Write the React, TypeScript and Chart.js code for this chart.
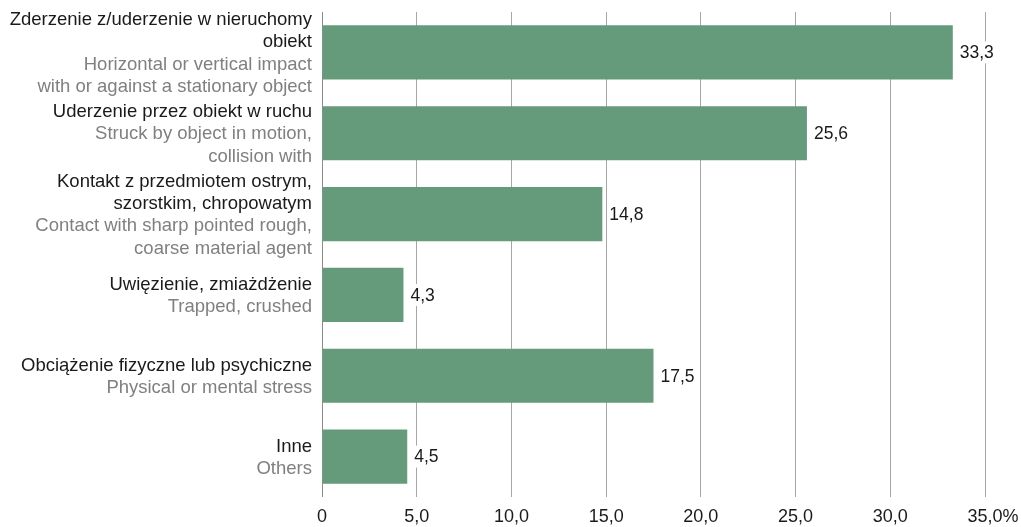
import React, { useEffect, useRef } from "react";
import { Chart, registerables } from "chart.js";

Chart.register(...registerables);

const polishLabels: string[][] = [
  ["Zderzenie z/uderzenie w nieruchomy", "obiekt"],
  ["Uderzenie przez obiekt w ruchu"],
  ["Kontakt z przedmiotem ostrym,", "szorstkim, chropowatym"],
  ["Uwięzienie, zmiażdżenie"],
  ["Obciążenie fizyczne lub psychiczne"],
  ["Inne"],
];

const englishLabels: string[][] = [
  ["Horizontal or vertical impact", "with or against a stationary object"],
  ["Struck by object in motion,", "collision with"],
  ["Contact with sharp pointed rough,", "coarse material agent"],
  ["Trapped, crushed"],
  ["Physical or mental stress"],
  ["Others"],
];

const values: number[] = [33.3, 25.6, 14.8, 4.3, 17.5, 4.5];

const xTicks: number[] = [0, 5, 10, 15, 20, 25, 30, 35];

const FONT = '"Liberation Sans", Arial, sans-serif';

const fmt = (v: number) => v.toFixed(1).replace(".", ",");

const labelPlugin = {
  id: "customLabels",
  afterDatasetsDraw(chart: any) {
    const ctx = chart.ctx;
    const yScale = chart.scales.y;
    const xScale = chart.scales.x;
    ctx.save();
    ctx.font = `18.5px ${FONT}`;
    ctx.textBaseline = "middle";
    // category labels
    ctx.textAlign = "right";
    const lh = 22.3;
    polishLabels.forEach((pl, i) => {
      const en = englishLabels[i];
      const lines = [...pl.map((t) => ({ t, c: "#1a1a1a" })), ...en.map((t) => ({ t, c: "#808080" }))];
      const cy = yScale.getPixelForValue(i);
      const y0 = cy - ((lines.length - 1) / 2) * lh;
      lines.forEach((ln, k) => {
        ctx.fillStyle = ln.c;
        ctx.fillText(ln.t, 312, y0 + k * lh + 1);
      });
    });
    // value labels
    ctx.font = `17.5px ${FONT}`;
    ctx.textAlign = "left";
    const meta = chart.getDatasetMeta(0);
    meta.data.forEach((bar: any, i: number) => {
      const txt = fmt(values[i]);
      const w = ctx.measureText(txt).width;
      const x = bar.x + 7;
      ctx.fillStyle = "#ffffff";
      ctx.fillRect(x - 2, bar.y - 11, w + 4, 22);
      ctx.fillStyle = "#1a1a1a";
      ctx.fillText(txt, x, bar.y + 1);
    });
    // x tick labels
    ctx.font = `18px ${FONT}`;
    ctx.fillStyle = "#1a1a1a";
    const ty = chart.chartArea.bottom + 20;
    xTicks.forEach((v, k) => {
      const x = xScale.getPixelForValue(v);
      const txt = v === 0 ? "0" : fmt(v);
      ctx.textAlign = "center";
      ctx.fillText(txt, x, ty);
      if (k === xTicks.length - 1) {
        const w = ctx.measureText(txt).width;
        ctx.textAlign = "left";
        ctx.fillText("%", x + w / 2, ty);
      }
    });
    ctx.restore();
  },
};

export default function App() {
  const ref = useRef<HTMLCanvasElement | null>(null);
  useEffect(() => {
    if (!ref.current) return;
    const chart = new Chart(ref.current, {
      type: "bar",
      data: {
        labels: polishLabels.map((l) => l.join(" ")),
        datasets: [
          {
            data: values,
            backgroundColor: "#659b7b",
            barPercentage: 0.67,
            categoryPercentage: 1,
          },
        ],
      },
      options: {
        indexAxis: "y",
        animation: false,
        responsive: true,
        maintainAspectRatio: false,
        layout: { padding: { left: 322, right: 36, top: 12, bottom: 0 } },
        plugins: { legend: { display: false }, tooltip: { enabled: false } },
        scales: {
          y: {
            display: false,
            grid: { display: false },
          },
          x: {
            min: 0,
            max: 35,
            afterBuildTicks(scale: any) {
              scale.ticks = xTicks.map((v) => ({ value: v }));
            },
            afterFit(scale: any) {
              scale.height = 30;
            },
            border: { display: false },
            grid: {
              color: (c: any) => (c.tick && c.tick.value === 0 ? "#8c8c8c" : "#a6a6a6"),
              lineWidth: 1,
              drawTicks: false,
            },
            ticks: {
              display: false,
            },
          },
        },
      },
      plugins: [labelPlugin],
    });
    return () => chart.destroy();
  }, []);
  return (
    <div style={{ position: "absolute", left: 0, top: 0, width: 1021, height: 527 }}>
      <canvas ref={ref} />
    </div>
  );
}
